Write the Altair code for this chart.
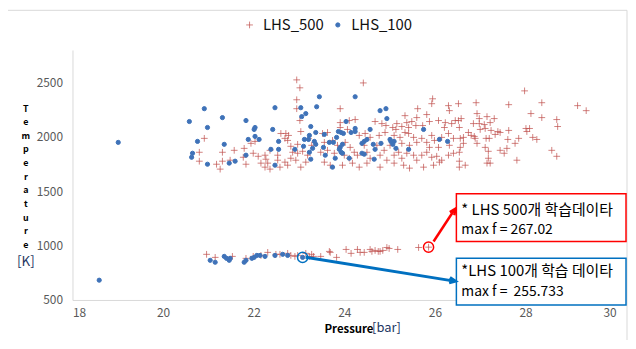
import altair as alt
import pandas as pd

FONT = "Noto Sans CJK KR"

# ---- data ----
p500 = [22.95,23.02,22.95,22.95,23.02,23.04,22.60,22.71,22.77,22.69,22.75,20.91,20.80,20.80,21.31,21.31,21.57,21.79,21.94,22.03,
        21.77,21.48,21.18,21.26,21.83,21.99,22.10,22.25,22.36,22.27,22.31,22.16,22.25,22.36,22.53,22.53,22.58,22.69,22.75,22.82,
        22.93,22.86,22.97,23.08,23.19,23.15,23.04,22.82,22.97,23.21,23.28,
        24.42,25.95,25.93,26.30,26.32,25.82,25.62,25.34,25.60,23.91,23.91,24.11,24.24,24.68,24.83,24.92,25.07,25.16,25.27,25.38,
        25.49,25.58,25.73,25.88,26.08,26.23,26.37,26.45,23.52,23.63,
        23.74,23.85,24.02,24.13,24.33,24.46,24.57,24.77,24.90,25.10,25.23,25.34,25.42,25.53,25.60,25.71,25.82,25.93,25.99,26.15,
        26.30,26.41,
        23.48,23.63,23.78,24.00,24.11,24.22,24.29,24.50,24.57,24.79,24.88,24.94,25.10,25.20,25.27,25.38,25.53,25.60,25.71,25.82,
        25.93,26.04,26.15,26.30,26.41,
        23.56,23.69,23.96,24.18,24.33,24.50,24.79,25.10,25.31,25.44,25.75,25.97,26.10,
        23.56,24.44,24.72,25.01,25.27,25.44,25.88,26.08,26.32,23.91,24.07,25.14,25.42,26.21,
        27.98,26.91,26.52,27.63,28.36,29.15,29.34,26.93,28.12,27.15,27.31,26.98,26.58,26.52,28.36,28.69,28.71,26.85,26.98,27.09,
        27.22,26.54,27.11,27.00,27.24,27.39,27.44,27.63,28.01,28.09,28.03,26.74,26.80,26.87,26.89,26.63,26.56,27.33,27.13,27.20,
        27.85,28.16,28.25,27.61,27.77,26.93,26.63,26.56,27.11,27.18,27.59,27.44,27.53,28.58,28.69,26.54,26.54,27.18,27.15,27.22,
        27.81,26.67,26.54,
        20.96,21.15,21.53,21.83,21.99,22.16,22.31,22.49,22.58,22.75,22.82,22.91,22.97,23.15,23.23,23.28,23.32,23.48,23.67,23.69,
        23.83,24.04,24.15,24.29,24.35,24.44,24.57,24.61,24.68,24.75,24.79,24.85,24.94,24.99,25.18,25.64,25.86]
t500 = [2525,2452,2342,2260,2151,2050,2032,2032,2014,1987,1968,1987,1859,1777,1859,1777,1877,1895,1941,1959,
        1813,1786,1749,1704,1749,1850,1822,1832,1877,1795,1759,1759,1722,1704,1832,1786,1722,1768,1740,1804,
        1786,1859,1850,1868,1832,1768,1722,1914,1932,1987,1923,
        2497,2351,2306,2288,2242,2206,2260,2196,2178,2260,2132,2151,2160,2142,2123,2105,2087,2123,2096,2132,
        2142,2105,2105,2142,2151,2132,2123,2151,2032,2041,
        1968,1923,1950,1904,2014,2032,1996,2014,2041,2014,1996,2041,2032,1996,1950,1987,1950,2014,1968,1996,
        2032,1987,
        1859,1877,1850,1832,1804,1859,1832,1859,1804,1832,1877,1786,1832,1859,1804,1850,1832,1786,1832,1859,
        1813,1822,1786,1832,1850,
        1768,1740,1740,1759,1722,1759,1722,1759,1740,1713,1722,1740,1768,
        1950,1923,1923,1923,1941,1923,1904,1904,1923,2087,2069,2069,2087,2087,
        2424,2315,2306,2297,2315,2288,2242,2215,2215,2187,2169,2169,2169,2151,2178,2160,2096,2123,2123,2114,
        2132,2087,2078,2069,2060,2050,2041,2060,2078,2078,2050,2041,2014,2005,1987,1996,1987,2023,1987,1987,
        1987,1996,1977,1977,1941,1941,1941,1904,1904,1868,1895,1877,1850,1877,1822,1859,1777,1804,1759,1759,
        1786,1740,1722,
        920,892,901,883,901,910,938,920,920,929,910,901,910,929,901,920,901,901,947,938,
        892,965,929,965,938,938,965,947,956,947,947,956,983,974,965,983,986]

p100 = [19.01,20.58,20.91,20.98,20.76,20.65,20.63,20.98,21.31,21.35,21.46,21.59,21.83,21.88,22.01,22.03,22.03,22.12,21.83,22.47,
        22.42,22.55,22.55,22.38,22.47,23.04,23.06,23.15,23.39,23.26,23.37,23.23,23.12,23.21,23.10,23.34,23.37,22.91,23.23,23.30,
        23.26,23.45,24.24,24.79,24.92,24.94,24.04,23.56,23.87,23.93,23.98,24.15,24.24,24.24,24.57,25.75,23.83,23.67,23.76,23.54,
        23.96,23.91,23.89,23.93,23.96,24.39,24.44,24.50,24.64,24.81,25.01,25.03,25.10,25.07,25.14,24.68,24.39,24.44,23.58,23.80,
        24.11,24.66,25.42,26.10,26.28,23.74,
        18.59,21.04,21.15,21.35,21.40,21.46,21.48,21.79,21.83,21.96,22.01,22.07,22.14,22.25,22.47,22.64,22.75,23.08]
t100 = [1950,2142,2260,2087,1959,1850,1813,1749,2178,1932,1759,1777,2151,1977,2069,2087,2005,1977,1832,2269,
        2069,1959,1886,1886,1740,2269,2187,2215,2278,2096,2041,2014,1977,1977,1914,1959,1932,1886,1859,1895,
        1795,2370,2370,2242,2260,2169,2142,2023,2050,2041,2032,2041,2078,2050,2069,2069,1996,1950,1950,1904,
        1932,1904,1886,1859,1850,1941,1959,1977,1932,1941,1977,1959,1959,1932,1895,1886,1850,1841,1832,1804,
        1804,1795,1886,1977,1959,1722,
        682,865,847,901,883,865,883,847,865,883,892,910,910,901,910,920,910,892]

series_names = ["LHS_500", "LHS_100"]
max500 = {"p": 25.86, "t": 986}
max100 = {"p": 23.08, "t": 892}
x_ticks = [18, 20, 22, 24, 26, 28, 30]
y_ticks = [500, 1000, 1500, 2000, 2500]

note500 = ["* LHS 500개 학습데이타", "max f = 267.02"]
note100 = ["*LHS 100개 학습 데이타", "max f =\u00a0 255.733"]

RED = "rgba(192,80,77,0.72)"
BLUE = "#3F72B8"
PLUS = "M-1.6,0H1.6M0,-1.6V1.6"
ARROW = "M-0.55,1.2L0,0L0.55,1.2"

df = pd.DataFrame({
    "pressure": p500 + p100,
    "temperature": t500 + t100,
    "series": [series_names[0]] * len(p500) + [series_names[1]] * len(p100),
})

xs = alt.Scale(domain=[18, 30], nice=False, zero=False)
ys = alt.Scale(domain=[500, 2800], nice=False, zero=False)

leg = alt.Legend(title=None, orient="none", legendX=171, legendY=-33, direction="horizontal",
                 labelFontSize=15, labelFont=FONT, labelColor="#111111", symbolSize=18,
                 columnPadding=6, labelOffset=6, symbolStrokeWidth=1)

points = alt.Chart(df).mark_point(filled=False, strokeWidth=1, size=18, opacity=1).encode(
    x=alt.X("pressure:Q", scale=xs, axis=alt.Axis(values=x_ticks, title=None, grid=False, ticks=False,
                                                  domainColor="#D9D9D9", labelColor="#595959", labelFontSize=12,
                                                  labelFont=FONT, labelPadding=8, format="d")),
    y=alt.Y("temperature:Q", scale=ys, axis=alt.Axis(values=y_ticks, title=None, grid=False, ticks=False,
                                                     domainColor="#D9D9D9", labelColor="#595959", labelFontSize=12,
                                                     labelFont=FONT, labelPadding=10, format="d")),
    color=alt.Color("series:N", scale=alt.Scale(domain=series_names, range=[RED, BLUE]), legend=leg),
    fill=alt.Fill("series:N", scale=alt.Scale(domain=series_names, range=["transparent", BLUE]), legend=leg),
    shape=alt.Shape("series:N", scale=alt.Scale(domain=series_names, range=[PLUS, "circle"]), legend=leg),
    order=alt.Order("ord:Q"),
).transform_calculate(ord="datum.series == 'LHS_500' ? 0 : 1")

anchor = pd.DataFrame({"k": [0]})


def txt(text, x, y, size, color="#000000", weight="normal", align="left", baseline="middle", **kw):
    return alt.Chart(anchor).mark_text(text=text, fontSize=size, color=color, fontWeight=weight, align=align,
                                       baseline=baseline, font=FONT, **kw).encode(x=alt.value(x), y=alt.value(y))


def box(x1, y1, x2, y2, color):
    return alt.Chart(anchor).mark_rect(fill="white", stroke=color, strokeWidth=1.5).encode(
        x=alt.value(x1), x2=alt.value(x2), y=alt.value(y1), y2=alt.value(y2))


def line(x1, y1, x2, y2, color, w):
    return alt.Chart(anchor).mark_rule(color=color, strokeWidth=w).encode(
        x=alt.value(x1), x2=alt.value(x2), y=alt.value(y1), y2=alt.value(y2))


def head(x, y, ang, color, w):
    return alt.Chart(anchor).mark_point(shape=ARROW, size=100, filled=False, strokeWidth=w, color=color,
                                        opacity=1, angle=ang).encode(x=alt.value(x), y=alt.value(y))


def ring(m, color):
    return alt.Chart(pd.DataFrame([m])).mark_point(shape="circle", size=105, filled=False, strokeWidth=1.5,
                                                    color=color, opacity=1).encode(
        x=alt.X("p:Q", scale=xs), y=alt.Y("t:Q", scale=ys))


border = line(-65, -40, 559, -40, "#D9D9D9", 1) + line(559, -40, 559, 300, "#D9D9D9", 1)

ytitle = txt(list("Temperature"), -47, 55, 9, color="#000000", weight="bold", align="center",
             baseline="top", lineHeight=13.75)
yunit = txt("[K]", -47, 214, 13.5, color="#1F3864", align="center")
xtitle = txt("Pressure", 254, 282, 11.5, weight="bold") + txt("[bar]", 302, 280, 13, color="#1F3864")

ann = (box(387, 145, 558, 193, "#FF0000") + box(387, 210, 558, 257, "#0070C0")
       + txt(note500[0], 392, 161, 15) + txt(note500[1], 392, 181, 14)
       + txt(note100[0], 392, 223, 15) + txt(note100[1], 392, 244, 14)
       + ring(max500, "#FF0000") + ring(max100, "#0070C0")
       + line(364, 193, 385, 161, "#FF0000", 2.5) + head(386, 160, 34, "#FF0000", 2.5)
       + line(235, 209, 385, 233, "#0070C0", 3) + head(386, 233, 99, "#0070C0", 3))

chart = alt.layer(border, points, ytitle, yunit, xtitle, ann).properties(
    width=548, height=252,
    padding={"left": 65, "top": 41, "right": 12, "bottom": 39},
    autosize=alt.AutoSizeParams(type="none"),
).configure_view(stroke=None).resolve_scale(x="shared", y="shared")

chart.save("out.html", embed_options={"renderer": "svg", "actions": False})
